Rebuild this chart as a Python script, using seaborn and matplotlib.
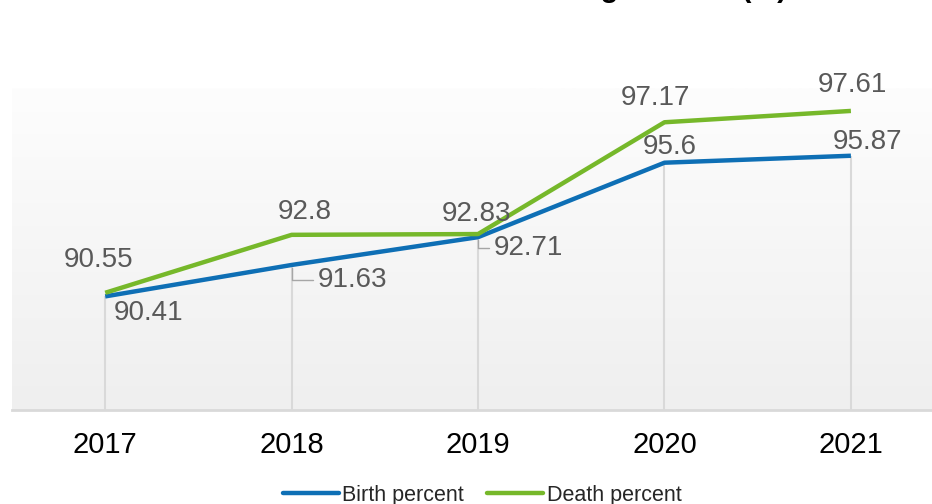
import numpy as np
import matplotlib
matplotlib.use("Agg")
import matplotlib.pyplot as plt
import pandas as pd
import seaborn as sb

# data
years = ["2017", "2018", "2019", "2020", "2021"]
birth = [90.41, 91.63, 92.71, 95.6, 95.87]
death = [90.55, 92.8, 92.83, 97.17, 97.61]
series = ["Birth percent", "Death percent"]

sb.set_style("white")
plt.rcParams["font.family"] = ["Liberation Sans", "DejaVu Sans"]

blue = "#0E6FB5"
green = "#76B82A"
label_col = "#595959"

df = pd.DataFrame({
    "pos": list(range(len(years))) * 2,
    "value": birth + death,
    "series": [series[0]] * len(years) + [series[1]] * len(years),
})

fig = plt.figure(figsize=(9.32, 5.04), dpi=100)
ax = fig.add_axes([12 / 932, 94 / 504, 1 - 12 / 932, 322 / 504])

# soft vertical gradient behind the plot
grad = np.linspace(0, 1, 256).reshape(-1, 1)
cmap = matplotlib.colors.LinearSegmentedColormap.from_list("bg", ["#fdfdfd", "#efefef"])
ax.imshow(grad, aspect="auto", cmap=cmap, extent=[0, 1, 0, 1],
          transform=ax.transAxes, zorder=0)

# drop lines from the lower series down to the axis
ax.vlines(range(len(years)), 86, birth, color="#d9d9d9", lw=1.5, zorder=1)

sb.lineplot(data=df, x="pos", y="value", hue="series", palette=[blue, green],
            lw=3.2, ax=ax, legend=False, zorder=3, solid_capstyle="butt")

ax.set_xlim(-0.5, 4.435)
ax.set_ylim(86, 98.5)
ax.set_xticks(range(len(years)))
ax.set_xticklabels(years, fontsize=21, color="black")
ax.tick_params(axis="x", length=0, pad=15)
ax.set_yticks([])
ax.set_xlabel("")
ax.set_ylabel("")
for s in ["top", "left", "right"]:
    ax.spines[s].set_visible(False)
ax.spines["bottom"].set_color("#d9d9d9")
ax.spines["bottom"].set_linewidth(2)

# data labels (offsets in pixels)
birth_off = [(43, -17), (61, -15), (50, -11), (5, 16), (17, 14)]
death_off = [(-7, 33), (13, 23), (-2, 20), (-9, 24), (2, 26)]
leader = [False, True, True, False, False]

for i, v in enumerate(birth):
    kw = {}
    if leader[i]:
        kw["arrowprops"] = dict(arrowstyle="-", color="#a6a6a6", lw=1,
                                connectionstyle="angle,angleA=0,angleB=90,rad=0",
                                shrinkA=1, shrinkB=2)
    ax.annotate(f"{v:g}", (i, v), xytext=birth_off[i], textcoords="offset pixels",
                ha="center", va="center", fontsize=20, color=label_col, zorder=5, **kw)

for i, v in enumerate(death):
    ax.annotate(f"{v:g}", (i, v), xytext=death_off[i], textcoords="offset pixels",
                ha="center", va="center", fontsize=20, color=label_col, zorder=5)

# title, mostly cut off at the top edge as in the reference
fig.text(787 / 932, 1 + 3 / 504, "Birth and Death Registration (%)", ha="right", va="baseline",
         fontsize=21, fontweight="bold", color="black")

handles = [plt.Line2D([], [], color=blue, lw=3.2), plt.Line2D([], [], color=green, lw=3.2)]
fig.legend(handles, series, loc="center", bbox_to_anchor=(482 / 932, 1 - 495 / 504),
           ncol=2, frameon=False, fontsize=15.5, handlelength=2.6, handletextpad=0.15,
           columnspacing=1.1)

fig.savefig("out.png", dpi=100)
